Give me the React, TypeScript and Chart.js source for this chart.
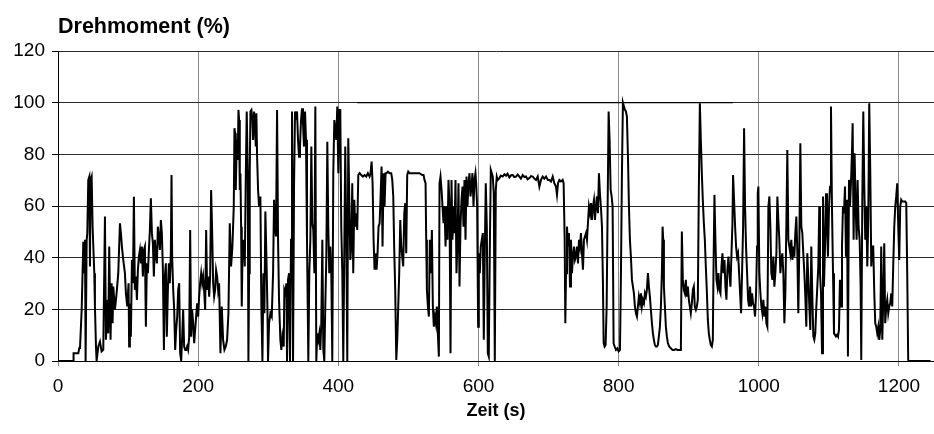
import React, { useEffect, useRef } from "react";
import { Chart, registerables } from "chart.js";

Chart.register(...registerables);

// Time (s) and torque (%) samples
const torqueTrace: [number, number][] = [
  [0, 0], [21.8, 0], [22.2, 3], [29, 3], [30.4, 5], [31.4, 5], [33.8, 20], [36.1, 46.2], [37.1, 34], [38.5, 46.9],
  [39.4, 0], [40.9, 46.9], [41.8, 49.5], [43.2, 70.1], [44.7, 71.4], [45.6, 36.6], [46.5, 70.1], [48, 71.4], [49.4, 52], [50.4, 44.3],
  [51.8, 34], [52.7, 21.1], [54.2, 5.6], [55.1, 0], [57.5, 5.6], [59.9, 7.5], [62.2, 3.7], [64.6, 4.3], [67, 55.9], [68.4, 8.2],
  [70.3, 23.7], [71.7, 10.7], [73.1, 44.3], [75, 8.2], [76.5, 30.1], [77.9, 14.6], [78.9, 28.8], [81.2, 19.8], [83.6, 26.2], [86, 34],
  [88.4, 53.3], [89.8, 49.5], [91.2, 44.3], [93.1, 39.1], [95.5, 34], [96.9, 26.2], [98.8, 21.1], [100.7, 30.1], [101.5, 5.6], [102.6, 22.3],
  [104, 9.4], [105.5, 39.1], [106.9, 30.1], [108.3, 63.6], [109.7, 27.5], [111.2, 32.7], [112.6, 23.6], [114, 35.2], [115.4, 40.4], [116.9, 43],
  [118.3, 37.8], [119.7, 44.3], [121.1, 32.7], [122.6, 43], [124, 44.3], [125.4, 13.3], [126.8, 37.8], [128.3, 34], [129.7, 43], [131.1, 50.7],
  [132.5, 63], [134, 49.4], [135.4, 45.6], [136.8, 32.7], [138.2, 46.9], [139.7, 40.4], [141.1, 37.8], [142.5, 52], [143.9, 48.1], [145.4, 43],
  [146.8, 54.6], [148.2, 49.4], [149.6, 36.5], [151.1, 4.3], [152.5, 32.7], [153.9, 37.8], [155.3, 9.4], [156.8, 27.5], [158.2, 37.8], [159.6, 30.1],
  [161, 41.7], [162, 72], [162.9, 40.4], [164.4, 27.5], [165.8, 19.8], [167.2, 4.3], [168.6, 12], [170.1, 17.2], [171.5, 27.5], [172.9, 30.1],
  [174.3, 3], [175.8, 0], [177.2, 9.4], [178.6, 19.8], [180, 5.6], [181.5, 4.3], [182.9, 4.3], [184.3, 5.6], [185.7, 4.3], [187.2, 9.4],
  [188.6, 50.7], [190, 9.4], [191.4, 19.8], [192.9, 14.6], [194.3, 6.9], [195.7, 12], [197.1, 17.2], [198.6, 22.3], [200, 17.2], [201.4, 24.9],
  [202.8, 30.1], [204.3, 34], [205.7, 30.1], [207.1, 32.7], [208.5, 27.5], [210, 19.8], [211.4, 50.7], [212.8, 27.5], [214.2, 32.7], [215.7, 24.9],
  [217.1, 32.7], [218.5, 66.2], [219.9, 50.7], [221.4, 30.1], [222.8, 24.9], [224.2, 27.5], [225.6, 35.2], [227.1, 32.7], [228.5, 27.5], [229.9, 30.1],
  [231.8, 3], [233.7, 21.1], [235.6, 8.2], [237.5, 4.3], [239.4, 5.6], [241.3, 8.2], [243.2, 18.5], [245.1, 53.3], [247, 36.6], [248.9, 44.3],
  [250.8, 59.8], [251.8, 90.1], [252.7, 88.2], [253.7, 66.2], [255.1, 85.6], [256.5, 77.8], [257.5, 97.2], [258.4, 93.3], [259.4, 66.2], [260.3, 72.7],
  [261.3, 52], [262.2, 21.1], [263.2, 40.4], [265.1, 46.9], [266.5, 36.6], [267.9, 70.1], [269.3, 96.6], [270.8, 72.7], [271.7, 0], [272.7, 34],
  [273.6, 72.7], [274.6, 96.6], [276, 97.2], [277.4, 93.3], [278.4, 85.6], [279.8, 96.6], [281.2, 90.8], [282.2, 83], [283.1, 95.9], [284.1, 79.1],
  [285.5, 66.2], [286.9, 59.8], [288.8, 63.7], [290.2, 21.1], [291.7, 0], [293.1, 34], [294.5, 18.5], [295.9, 57.9], [297.4, 40.4], [298.8, 21.1],
  [299.7, 0], [301.2, 14.6], [303.1, 18.5], [305, 17.2], [306.9, 34], [308.3, 62.4], [309.7, 52], [311.1, 48.2], [312.6, 97.2], [314, 46.9],
  [315.4, 23.7], [317.3, 8.2], [318.7, 4.3], [320.2, 9.5], [322.1, 5.6], [323, 27.5], [324.4, 26.2], [325.9, 30.1], [326.8, 0], [328.2, 31.4],
  [329.7, 34], [331.1, 0], [332.5, 46.9], [333.9, 96.6], [335.4, 0], [336.8, 67.5], [338.2, 96.6], [339.6, 93.3], [341.1, 96.6], [342.5, 85.6],
  [343.9, 79.1], [345.3, 83], [346.8, 93.3], [348.2, 97.8], [349.6, 92], [351, 83], [352.5, 96.6], [353.9, 85.6], [355.3, 46.9], [357.2, 0],
  [358.6, 34], [360.1, 46.9], [361.5, 83], [362.9, 53.3], [364.3, 50.7], [365.8, 34], [367.2, 98.5], [368.6, 0], [370, 10.7], [371.5, 8.2],
  [372.9, 10.7], [374.3, 4.3], [375.7, 14.6], [377.2, 46.9], [378.6, 4.3], [380, 0], [381.4, 21.1], [382.9, 40.4], [384.3, 84.9], [385.7, 52],
  [387.1, 34], [388.6, 44.3], [390, 34], [391.4, 0], [392.8, 72.7], [394.3, 93.3], [395.7, 89.5], [397.1, 85.6], [398.5, 98.5], [400, 72.7],
  [401.4, 97.2], [402.8, 97.2], [404.2, 52], [405.7, 34], [407.1, 0], [408.5, 41.7], [409.9, 83], [411.4, 46.9], [412.8, 0], [414.2, 86.2],
  [415.6, 63.7], [417.1, 39.1], [418.5, 44.3], [419.9, 68.8], [421.3, 34], [422.8, 62.4], [424.2, 52], [425.6, 57.2], [427, 50.7], [428.5, 72],
  [430.4, 72.7], [432.7, 72], [435.1, 71.4], [437.5, 72], [439.9, 71.4], [442.2, 72.7], [444.6, 71.4], [446, 72.7], [447.5, 77.2], [448.9, 68.8],
  [450.3, 46.9], [451.7, 35.3], [453.2, 41.7], [454.6, 35.3], [456, 41.7], [457.4, 52], [458.9, 53.3], [460.3, 63.7], [461.7, 75.3], [463.1, 44.3],
  [464.6, 72.7], [466, 59.8], [467.4, 72.7], [468.8, 72.7], [470.7, 73.3], [473.1, 72.7], [475.5, 72.7], [477, 70.1], [478.4, 63.7], [479.8, 43],
  [481.2, 27.5], [482.7, 0.4], [484.1, 8.2], [485.5, 21.1], [486.9, 34], [488.4, 54.6], [489.8, 44.3], [491.2, 40.4], [492.6, 36.6], [494.1, 57.2],
  [495.5, 61.1], [496.9, 41.7], [498.3, 72], [499.8, 73.3], [501.7, 72.7], [506.4, 72.7], [511.2, 72.7], [515.9, 72.7], [519.7, 72], [521.6, 72],
  [523, 70.1], [524.5, 68.8], [525.4, 46.9], [526.4, 27.5], [527.8, 21.1], [529.2, 17.2], [530.6, 46.9], [532.1, 34], [533.5, 50.7], [534.9, 21.1],
  [536.3, 13.3], [537.8, 17.2], [539.2, 14.6], [540.6, 21.1], [542, 10.7], [543.5, 1.7], [544.4, 68.8], [545.8, 71.4], [547.3, 66.2], [548.7, 59.8],
  [550.1, 53.3], [551.5, 59.8], [553, 44.3], [554.4, 59.8], [555.8, 46.9], [557.2, 70.1], [558.7, 59.8], [560.1, 3], [561.5, 70.1], [562.9, 46.9],
  [564.4, 59.8], [565.8, 49.5], [567.2, 70.1], [568.6, 34], [570.1, 46.9], [571.5, 68.8], [572.9, 28.8], [574.3, 52], [575.8, 62.4], [577.2, 67.5],
  [578.6, 52], [580, 70.1], [581.5, 46.9], [582.9, 71.4], [584.3, 59.8], [585.7, 68.8], [587.2, 72.7], [588.6, 63.7], [590, 67.5], [591.4, 72.7],
  [592.9, 59.8], [594.3, 70.1], [595.7, 72.7], [596.7, 68.8], [598.1, 59.8], [599.5, 13.3], [600.5, 41.7], [601.9, 34], [603.3, 44.3], [604.7, 46.9],
  [606.2, 49.5], [607.6, 8.2], [609, 41.7], [610.4, 68.8], [611.9, 52], [613.3, 3], [614.7, 1.7], [616.1, 41.7], [617.6, 74], [619, 72.7],
  [620.4, 71.4], [621.8, 64.9], [623.3, 0], [624.7, 66.2], [626.1, 71.4], [627.5, 70.1], [629.9, 70.8], [632, 71.8], [634.6, 71.4], [637, 72.3],
  [639.4, 71.7], [641.5, 72.5], [644.1, 71.1], [646.5, 71.9], [648.9, 72], [651, 71.2], [653.6, 71.4], [656, 72.2], [658.4, 71.4], [660.5, 70.6],
  [663.1, 72], [665.5, 71.2], [667.9, 71.4], [670, 70.3], [672.6, 70.8], [675, 71.6], [677.4, 71.4], [680, 70.5], [682.1, 70.1], [684.5, 71.4],
  [686.9, 67.5], [689.2, 70.1], [691.6, 71.4], [694, 70.6], [696.4, 71.4], [699, 70.1], [701.1, 70.1], [703.5, 69.5], [705.9, 71.4], [708.2, 68.8],
  [710.6, 67.5], [712, 64.3], [713.5, 68.8], [715.4, 70.1], [717.7, 69.5], [720.1, 70.1], [721.5, 68.8], [723, 46.9], [723.9, 14.6], [724.9, 34],
  [726.3, 52], [727.7, 44.3], [729.1, 49.5], [730.6, 28.8], [732, 46.9], [733.4, 34], [734.8, 40.4], [736.3, 44.3], [737.7, 39.1], [739.1, 40.4],
  [740.5, 44.3], [742, 37.8], [743.4, 46.9], [744.8, 44.3], [746.2, 49.5], [747.7, 41.7], [749.1, 35.3], [750.5, 46.9], [751.9, 48.2], [753.4, 49.5],
  [754.8, 46.9], [756.2, 53.3], [757.6, 59.8], [759.1, 57.2], [760.5, 61.1], [761.9, 54.6], [763.3, 59.8], [764.8, 62.4], [766.2, 54.6], [767.6, 59.8],
  [769, 63.7], [770.5, 57.2], [771.9, 72.7], [773.3, 64.9], [774.7, 59.8], [776.2, 52], [777.6, 30], [778.6, 6.9], [780, 5.6], [781.4, 6.2],
  [782.9, 21.1], [784.3, 59.8], [785.7, 96.6], [787.1, 85.6], [788.6, 66.2], [790, 63.7], [791.4, 59.8], [792.8, 6.9], [794.3, 5.6], [796.2, 4.3],
  [798.1, 4.9], [800, 3.7], [801.9, 4.3], [803.3, 34], [804.7, 72.7], [806.1, 100], [807.6, 98.5], [809, 97.2], [810.4, 96.6], [811.8, 94.6],
  [813.3, 79.1], [814.7, 59.8], [816.1, 46.9], [817.5, 40.4], [819, 31.4], [820.4, 28.8], [821.8, 26.2], [823.2, 21.1], [824.7, 18.5], [826.1, 17.2],
  [827.5, 21.1], [828.9, 24.9], [830.4, 22.4], [831.8, 26.2], [833.2, 21.1], [834.6, 23.7], [836.1, 22.4], [837.5, 26.2], [838.9, 24.9], [840.3, 27.5],
  [841.8, 34], [843.2, 28.8], [844.6, 24.9], [846, 19.8], [847.5, 14.6], [848.9, 10.7], [850.3, 8.2], [851.7, 6.2], [853.2, 5.6], [854.6, 5.6],
  [856, 6.2], [857.4, 9.5], [858.9, 13.3], [860.3, 21.1], [861.7, 34], [862.7, 52], [863.6, 46.9], [864.6, 28.8], [866, 21.1], [867.4, 13.3],
  [868.8, 9.5], [870.3, 6.9], [872.2, 5.6], [874.5, 4.9], [876.9, 4.3], [879.3, 4.3], [881.7, 4.6], [884, 4.3], [886.4, 4.3], [888.8, 4.3],
  [890.2, 50.1], [891.6, 31.4], [893.1, 27.5], [894.5, 26.2], [895.9, 31.4], [897.3, 24.9], [898.8, 28.8], [900.2, 23.7], [901.6, 21.1], [903, 18.5],
  [904.5, 22.4], [905.9, 27.5], [907.3, 28.8], [908.7, 21.1], [910.2, 19.8], [911.6, 21.1], [913, 23.7], [914.4, 65], [915.9, 99.8], [917.3, 85.6],
  [918.7, 72.7], [920.1, 62.4], [921.6, 53.3], [923, 46.9], [924.4, 36.6], [925.8, 27.5], [927.3, 15.9], [928.7, 10.7], [930.1, 8.2], [931.5, 6.2],
  [933, 5.6], [934.4, 8.2], [935.3, 34], [936.7, 64.3], [938.1, 46.9], [939.6, 31.4], [941, 28.8], [942.4, 34], [943.8, 27.5], [945.3, 26.2],
  [946.7, 36.6], [948.1, 41.7], [949.5, 34], [951, 39.1], [952.4, 28.8], [953.8, 23.7], [955.2, 35.3], [956.7, 40.4], [958.1, 34], [959.5, 28.8],
  [960.9, 40.4], [962.4, 53.3], [963.3, 72], [964.7, 62.4], [966.2, 52], [967.6, 44.3], [969, 40.4], [970.4, 41.7], [971.9, 34], [973.3, 26.2],
  [974.7, 18.5], [976.1, 34], [977.6, 52], [979, 90.1], [980.4, 59.8], [981.8, 44.3], [983.3, 34], [984.7, 23.7], [986.1, 21.1], [987.5, 28.8],
  [989, 21.1], [990.4, 26.2], [991.8, 22.4], [993.2, 21.1], [994.7, 17.2], [996.1, 26.2], [997.5, 44.3], [998.5, 64.9], [999.4, 67.5], [1000.8, 34],
  [1002.3, 26.2], [1003.7, 21.1], [1005.1, 18.5], [1006.5, 23.7], [1008, 17.2], [1009.4, 21.1], [1010.8, 14.6], [1012.2, 13.3], [1013.7, 59.8], [1015.1, 63.7],
  [1016.5, 52], [1017.9, 34], [1019.4, 31.4], [1020.8, 40.4], [1022.2, 28.8], [1023.6, 34], [1025.1, 41.7], [1026.5, 63.7], [1027.9, 54.6], [1029.3, 46.9],
  [1030.8, 34], [1032.2, 39.1], [1033.6, 41.7], [1035, 34], [1036.5, 14.6], [1037.9, 26.2], [1039.3, 52], [1040.7, 81.7], [1042.2, 46.9], [1043.6, 44.3],
  [1045, 41.7], [1046.4, 46.9], [1047.9, 39.1], [1049.3, 44.3], [1050.7, 40.4], [1052.1, 49.5], [1053.6, 55.9], [1055, 41.7], [1056.4, 18.5], [1057.8, 44.3],
  [1059.3, 84.3], [1060.7, 52], [1062.1, 49.5], [1063.5, 41.7], [1065, 34], [1066.4, 24.9], [1067.8, 13.3], [1069.2, 41.7], [1070.7, 31.4], [1072.1, 21.1],
  [1073.5, 12], [1074.9, 44.3], [1076.4, 24.9], [1077.8, 9.5], [1079.2, 8.2], [1080.6, 10.7], [1082.1, 21.1], [1083.5, 28.8], [1084.9, 36.6], [1086.3, 59.8],
  [1087.3, 34], [1088.8, 26.2], [1090.2, 3], [1091.6, 63.7], [1093, 28.8], [1094.5, 44.3], [1095.9, 64.9], [1097.3, 52], [1098.7, 40.4], [1100.2, 59.8],
  [1101.6, 67.5], [1103, 98.5], [1104.4, 59.8], [1105.9, 34], [1107.3, 10.7], [1108.7, 10.1], [1110.1, 9.5], [1111.6, 10.1], [1113, 9.5], [1114.4, 12],
  [1115.8, 31.4], [1117.3, 21.1], [1118.7, 44.3], [1120.1, 59.8], [1121.5, 57.2], [1123, 67.5], [1124.4, 40.4], [1125.8, 62.4], [1127.2, 1.7], [1128.7, 70.1],
  [1130.1, 59.8], [1131.5, 68.8], [1132.9, 80.4], [1133.9, 92], [1135.3, 46.9], [1136.7, 80.4], [1138.2, 59.8], [1139.6, 46.9], [1141, 70.1], [1142.4, 52],
  [1143.9, 46.9], [1145.3, 28.8], [1146.2, 0.4], [1147.7, 62.4], [1149.1, 96.6], [1150.5, 68.8], [1151.9, 46.9], [1153.4, 59.8], [1154.8, 36.6], [1156.2, 54.6],
  [1157.6, 99.8], [1159.1, 72.7], [1160.5, 36.6], [1161.9, 44.3], [1163.3, 44.3], [1164.8, 26.2], [1166.2, 14.6], [1167.6, 13.3], [1169, 10.7], [1170.5, 13.3],
  [1171.9, 8.2], [1173.3, 12], [1174.7, 44.3], [1176.2, 8.2], [1177.6, 23.7], [1179, 45.6], [1180.4, 14.6], [1181.9, 21.1], [1183.3, 23.7], [1184.7, 18.5],
  [1186.1, 21.1], [1187.6, 22.4], [1189, 26.2], [1190.4, 21.1], [1191.8, 36.6], [1193.3, 52], [1194.7, 59.8], [1196.1, 63.7], [1197.5, 68.8], [1199, 52],
  [1200.4, 39.1], [1201.8, 59.8], [1203.2, 62.4], [1204.7, 61.7], [1206.1, 61.7], [1207.5, 61.7], [1208.9, 61.7], [1210.4, 61.1], [1211.8, 34], [1213.2, 0.4],
  [1215, 0], [1245, 0],
];

// Short dark segment drawn on the 100 % line in the reference
const fullLoadSpan = [427, 963];
const fullLoadLevel = 100;

const xTickStep = 200;
const yTickStep = 20;
const xMax = 1250;
const yMax = 120;

const chartTitle = "Drehmoment (%)";
const xTitle = "Zeit (s)";

const FONT = "'Liberation Sans', Arial, Helvetica, sans-serif";

export default function App() {
  const canvasRef = useRef<HTMLCanvasElement | null>(null);

  useEffect(() => {
    const canvas = canvasRef.current;
    if (!canvas) return;
    const chart = new Chart(canvas, {
      type: "line",
      data: {
        datasets: [
          {
            data: torqueTrace.map(([t, v]) => ({ x: t, y: v })),
            borderColor: "#000000",
            borderWidth: 2,
            pointRadius: 0,
            tension: 0,
            fill: false,
          },
          {
            data: fullLoadSpan.map((t) => ({ x: t, y: fullLoadLevel })),
            borderColor: "#000000",
            borderWidth: 1.2,
            pointRadius: 0,
            fill: false,
          },
        ],
      },
      options: {
        animation: false,
        responsive: false,
        maintainAspectRatio: false,
        layout: { padding: { left: 0, right: 0, top: 0, bottom: 0 } },
        plugins: {
          legend: { display: false },
          tooltip: { enabled: false },
          title: {
            display: true,
            text: chartTitle,
            align: "start",
            fullSize: false,
            color: "#000000",
            font: { family: FONT, size: 21.5, weight: "bold" },
            padding: { top: 14, bottom: 11.2 },
          },
        },
        scales: {
          x: {
            type: "linear",
            min: 0,
            max: xMax,
            ticks: {
              stepSize: xTickStep,
              includeBounds: false,
              color: "#000000",
              font: { family: FONT, size: 19 },
              padding: 9,
              maxRotation: 0,
              callback: (value: any) => String(value),
            },
            grid: {
              color: "#8a8a8a",
              lineWidth: 1,
              tickLength: 5,
              tickColor: "#8a8a8a",
            },
            border: { color: "#000000", width: 1 },
            title: {
              display: true,
              text: xTitle,
              color: "#000000",
              font: { family: FONT, size: 18, weight: "bold" },
              padding: { top: 0, bottom: 12 },
            },
            afterFit: (scale: any) => {
              scale.height = 73;
            },
          },
          y: {
            min: 0,
            max: yMax,
            ticks: {
              stepSize: yTickStep,
              color: "#000000",
              font: { family: FONT, size: 19 },
              padding: 7,
            },
            grid: {
              color: "#2a2a2a",
              lineWidth: 1,
              tickLength: 6,
              tickColor: "#000000",
            },
            border: { color: "#000000", width: 1 },
            afterFit: (scale: any) => {
              scale.width = 58;
            },
          },
        },
      },
    } as any);
    return () => chart.destroy();
  }, []);

  return (
    <div style={{ position: "absolute", left: 0, top: 0, width: 934, height: 434, background: "#ffffff" }}>
      <canvas ref={canvasRef} width={934} height={434} style={{ display: "block" }} />
    </div>
  );
}
